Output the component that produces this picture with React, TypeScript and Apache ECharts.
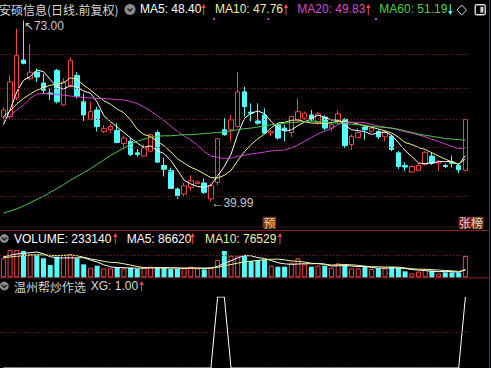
import React, { useEffect, useRef } from "react";
import * as echarts from "echarts";

// ---------- data ----------
const days = Array.from({ length: 70 }, (_, i) => `D${i + 1}`);

const opens = [
  55.4, 55.5, 58.9, 65.8, 62.4, 63.6, 61.6, 59.8, 63.9, 57.6,
  61.2, 63.0, 58.2, 55.0, 56.7, 52.8, 53.1, 53.0, 50.6, 51.0,
  48.9, 48.3, 49.2, 52.6, 46.6, 45.7, 42.3, 41.4, 42.6, 43.3,
  43.4, 40.5, 43.5, 53.1, 53.1, 53.7, 60.0, 56.3, 54.7, 55.8,
  52.5, 54.0, 53.4, 52.6, 54.8, 55.2, 55.8, 54.3, 55.4, 53.4,
  54.7, 55.0, 50.4, 51.7, 53.6, 52.8, 52.8, 51.8, 51.9, 48.9,
  46.6, 45.4, 45.7, 46.8, 48.3, 47.0, 46.6, 47.2, 46.6, 45.7,
];
const closes = [
  56.7, 61.8, 66.6, 65.2, 63.6, 62.7, 60.3, 59.6, 58.2, 61.8,
  65.7, 59.2, 55.8, 56.4, 53.7, 53.3, 53.7, 50.8, 51.6, 48.6,
  48.6, 49.8, 52.2, 47.2, 45.9, 42.4, 41.1, 42.9, 43.8, 43.6,
  41.7, 42.9, 51.48, 52.2, 54.9, 60.0, 57.3, 56.1, 54.3, 52.5,
  52.8, 51.6, 53.0, 55.5, 56.4, 56.1, 54.9, 56.0, 53.4, 54.0,
  56.0, 50.2, 51.9, 52.6, 53.1, 53.4, 51.8, 52.6, 49.5, 46.4,
  46.3, 46.4, 46.6, 49.0, 47.0, 47.4, 46.4, 47.0, 45.8, 54.96,
];
const lows = [
  55.0, 55.2, 58.5, 65.0, 62.1, 61.8, 59.7, 58.5, 57.9, 57.4,
  60.8, 58.8, 54.7, 54.8, 52.8, 52.5, 52.5, 50.6, 49.5, 48.3,
  48.2, 48.2, 49.0, 47.1, 44.6, 42.3, 40.5, 40.9, 42.0, 43.2,
  41.4, 39.99, 43.0, 52.0, 51.0, 53.5, 55.5, 54.6, 54.0, 52.3,
  51.9, 51.3, 51.0, 51.8, 54.4, 54.9, 54.6, 54.0, 53.0, 52.8,
  54.3, 49.8, 49.4, 51.6, 51.3, 52.6, 51.4, 51.0, 49.2, 45.9,
  45.6, 45.3, 45.6, 46.6, 46.7, 45.6, 46.1, 46.2, 45.2, 45.6,
];
const highs = [
  57.2, 63.0, 71.5, 73.0, 68.8, 64.2, 63.3, 60.6, 64.2, 62.5,
  66.3, 63.6, 59.7, 58.2, 57.3, 54.0, 54.1, 54.3, 52.0, 51.6,
  49.6, 50.4, 52.4, 53.0, 48.0, 46.2, 42.6, 43.4, 44.8, 43.8,
  44.2, 43.3, 51.48, 55.2, 55.8, 63.6, 60.9, 57.9, 57.9, 57.0,
  53.0, 54.3, 54.0, 55.6, 58.8, 56.4, 56.7, 56.3, 55.7, 54.7,
  56.6, 55.2, 52.3, 53.4, 54.0, 53.7, 53.1, 52.8, 52.2, 49.2,
  47.2, 46.6, 47.0, 49.2, 49.0, 47.5, 46.9, 48.4, 47.0, 54.96,
];
const ma5 = [
  54.0, 56.7, 60.0, 62.1, 62.78, 63.98, 63.68, 62.28, 60.88, 60.52,
  61.12, 60.9, 60.14, 59.78, 58.16, 55.68, 54.58, 53.58, 52.62, 51.6,
  50.66, 49.88, 50.16, 49.28, 48.74, 47.5, 45.76, 43.9, 43.22, 42.76,
  42.62, 42.98, 44.7, 46.38, 48.64, 52.3, 55.18, 56.1, 56.52, 56.04,
  54.6, 53.46, 52.84, 53.08, 53.86, 54.52, 55.18, 55.78, 55.36, 54.88,
  54.86, 53.92, 53.1, 52.94, 52.76, 52.24, 52.56, 52.7, 52.08, 50.74,
  49.32, 48.24, 47.04, 46.94, 47.06, 47.28, 47.28, 47.36, 46.72, 48.4,
];
const ma10 = [
  55.5, 56.5, 57.8, 58.8, 59.6, 60.3, 60.8, 61.2, 61.4, 61.65,
  62.55, 62.29, 61.21, 60.33, 59.34, 58.4, 57.74, 56.86, 56.2, 54.88,
  53.17, 52.23, 51.87, 50.95, 50.17, 49.08, 47.82, 47.03, 46.25, 45.75,
  45.06, 44.37, 44.3, 44.8, 45.7, 47.46, 49.08, 50.4, 51.45, 52.34,
  53.45, 54.32, 54.47, 54.8, 54.95, 54.56, 54.32, 54.31, 54.22, 54.37,
  54.69, 54.55, 54.44, 54.15, 53.82, 53.55, 53.24, 52.9, 52.51, 51.75,
  50.78, 50.4, 49.87, 49.51, 48.9, 48.3, 47.76, 47.2, 46.83, 47.76,
];
const ma20 = [
  54.6, 55.7, 56.7, 57.6, 58.8, 59.6, 59.7, 59.6, 59.5, 59.4,
  59.25, 59.1, 59.0, 58.9, 58.8, 58.8, 58.7, 58.6, 58.5, 58.27,
  57.86, 57.26, 56.54, 55.64, 54.76, 53.74, 52.78, 51.95, 51.23, 50.32,
  49.12, 48.3, 48.08, 47.87, 47.93, 48.27, 48.45, 48.71, 48.85, 49.04,
  49.25, 49.34, 49.38, 49.8, 50.32, 51.0, 51.7, 52.35, 52.83, 53.35,
  54.07, 54.43, 54.46, 54.48, 54.39, 54.06, 53.78, 53.6, 53.37, 53.06,
  52.74, 52.48, 52.16, 51.83, 51.36, 50.93, 50.5, 50.05, 49.67, 49.83,
];
const ma60 = [
  37.9, 38.3, 38.7, 39.2, 39.8, 40.4, 41.0, 41.7, 42.4, 43.1,
  43.9, 44.6, 45.3, 46.0, 46.8, 47.6, 48.4, 49.1, 49.8, 50.5,
  51.0, 51.4, 51.7, 51.9, 52.0, 52.0, 52.1, 52.2, 52.2, 52.3,
  52.4, 52.5, 52.6, 52.7, 52.9, 53.1, 53.3, 53.4, 53.6, 53.8,
  54.0, 54.1, 54.3, 54.4, 54.5, 54.6, 54.7, 54.6, 54.5, 54.4,
  54.3, 54.2, 54.1, 54.0, 53.9, 53.7, 53.6, 53.5, 53.4, 53.2,
  52.9, 52.6, 52.3, 52.1, 51.9, 51.7, 51.5, 51.4, 51.3, 51.19,
];
// volume in thousands
const volumes = [
  208, 299, 299, 288, 252, 244, 208, 135, 226, 244,
  252, 208, 142, 105, 127, 98, 98, 105, 98, 105,
  91, 105, 116, 105, 105, 91, 91, 98, 116, 98,
  87, 105, 189, 288, 237, 237, 237, 178, 189, 189,
  127, 116, 116, 160, 208, 142, 116, 127, 127, 105,
  153, 135, 98, 98, 116, 91, 98, 98, 116, 105,
  65, 43, 62, 90, 73, 40, 55, 55, 52, 233.14,
];
const volMa5 = [
  225, 240, 255, 262, 269.2, 276.4, 258.2, 225.4, 213, 211.4,
  213, 213, 214.4, 190.2, 166.8, 136, 114, 106.6, 105.2, 100.8,
  99.4, 100.8, 103, 104.4, 104.4, 104.4, 101.6, 98, 100.2, 98.8,
  98, 100.8, 119, 153.4, 181.2, 211.2, 237.6, 235.4, 215.6, 206,
  184, 159.8, 147.4, 141.6, 145.4, 148.4, 148.4, 150.6, 144, 123.4,
  125.6, 129.4, 123.6, 117.8, 120, 107.6, 100.2, 100.2, 103.8, 101.6,
  96.4, 85.4, 78.2, 73, 66.6, 61.6, 64, 62.6, 55, 86.62,
];
const volMa10 = [
  215, 222, 230, 238, 243, 246, 245, 240, 238, 240.3,
  244.7, 235.6, 219.9, 201.6, 189.1, 174.5, 163.5, 160.5, 147.7, 133.8,
  117.7, 107.4, 104.8, 104.8, 102.6, 101.9, 101.2, 100.5, 102.3, 101.6,
  101.2, 101.2, 108.5, 126.8, 140, 154.6, 169.2, 177.2, 184.5, 193.6,
  197.6, 198.7, 191.4, 178.6, 175.7, 166.2, 154.1, 149, 142.8, 134.4,
  137, 138.9, 137.1, 130.9, 121.7, 116.6, 114.8, 111.9, 110.8, 110.8,
  102, 92.8, 89.2, 88.4, 84.1, 79, 74.7, 70.4, 64, 76.529,
];
const xg = [
  0, 0, 0, 0, 0, 0, 0, 0, 0, 0,
  0, 0, 0, 0, 0, 0, 0, 0, 0, 0,
  0, 0, 0, 0, 0, 0, 0, 0, 0, 0,
  0, 0, 1, 1, 0, 0, 0, 0, 0, 0,
  0, 0, 0, 0, 0, 0, 0, 0, 0, 0,
  0, 0, 0, 0, 0, 0, 0, 0, 0, 0,
  0, 0, 0, 0, 0, 0, 0, 0, 0, 1,
];
const priceGridLines = [40.9, 45.45, 50, 55.05, 60.7, 66.8];
const volGridLines = [236];
const xgGridLines = [0.5];

// ---------- styles ----------
const UP = "#f24646";
const DOWN = "#54fcfc";
const GRIDC = "#7a2222";
const FRAME = "#8e1e1e";
const LATIN = '12px "Liberation Sans", Arial, sans-serif';
const CJK = '"Noto Sans CJK SC", sans-serif';

const txt = (text: string, x: number, y: number, fill: string, font = LATIN) => ({
  type: "text",
  x,
  y,
  silent: true,
  style: { text, fill, font, verticalAlign: "middle", align: "left" },
});
const arrow = (x: number, y1: number, y2: number, color: string, up = true) => [
  { type: "line", silent: true, shape: { x1: x, y1: up ? y1 + 1 : y1, x2: x, y2: up ? y2 : y2 - 1 }, style: { stroke: color, lineWidth: 1 } },
  {
    type: "polygon",
    silent: true,
    shape: {
      points: up
        ? [[x - 2.2, y1 + 4], [x, y1], [x + 2.2, y1 + 4]]
        : [[x - 2.2, y2 - 4], [x, y2], [x + 2.2, y2 - 4]],
    },
    style: { fill: color },
  },
];
const icon = (cx: number, cy: number, r: number) => [
  { type: "circle", silent: true, shape: { cx, cy, r }, style: { fill: "#8c8c8c" } },
  {
    type: "polyline",
    silent: true,
    shape: { points: [[cx - 2.5, cy - 1], [cx, cy + 1.6], [cx + 2.5, cy - 1]] },
    style: { stroke: "#1c1c1c", lineWidth: 1.4, fill: "none" },
  },
];
const gridMarkLine = (values: number[]) => ({
  silent: true,
  symbol: ["none", "none"],
  label: { show: false },
  animation: false,
  lineStyle: { color: GRIDC, type: [1, 2], width: 1 },
  emphasis: { disabled: true },
  data: values.map((v) => ({ yAxis: v })),
});

export default function App() {
  const ref = useRef<HTMLDivElement>(null);
  useEffect(() => {
    if (!ref.current) return;
    const chart = echarts.init(ref.current, undefined, { renderer: "svg" });
    const candle = opens.map((o, i) => [o, closes[i], lows[i], highs[i]]);
    const hiIdx = highs.indexOf(Math.max(...highs));
    const loIdx = lows.indexOf(Math.min(...lows));
    const volData = volumes.map((v, i) => {
      const up = closes[i] >= opens[i];
      return {
        value: v,
        itemStyle: up
          ? { color: "#000", borderColor: UP, borderWidth: 1 }
          : { color: DOWN, borderColor: DOWN, borderWidth: 0 },
      };
    });
    const L = -3.07;
    const W = 471.8;
    const line = (name: string, data: number[], color: string, idx: number) => ({
      name,
      type: "line",
      data,
      xAxisIndex: idx,
      yAxisIndex: idx,
      symbol: "none",
      silent: true,
      lineStyle: { color, width: 1 },
      emphasis: { disabled: true },
    });
    const xa = (i: number) => ({
      type: "category",
      gridIndex: i,
      data: days,
      boundaryGap: true,
      show: false,
    });
    const lastCol = "#f0f0a0";
    chart.setOption({
      animation: false,
      backgroundColor: "#000",
      grid: [
        { left: L, width: W, top: 18.7, height: 210.3 },
        { left: L, width: W, top: 248.06, height: 29.24 },
        { left: L, width: W, top: 297, height: 84 },
      ],
      xAxis: [xa(0), xa(1), xa(2)],
      yAxis: [
        { type: "value", gridIndex: 0, min: 35.02, max: 73.33, show: false },
        { type: "value", gridIndex: 1, min: 0, max: 320, show: false },
        { type: "value", gridIndex: 2, min: 0, max: 1, show: false },
      ],
      series: [
        {
          name: "K",
          type: "candlestick",
          data: candle,
          xAxisIndex: 0,
          yAxisIndex: 0,
          barWidth: 5,
          silent: true,
          itemStyle: { color: "#000", color0: DOWN, borderColor: UP, borderColor0: DOWN, borderWidth: 1 },
          emphasis: { disabled: true },
          markLine: gridMarkLine(priceGridLines),
          markPoint: {
            silent: true,
            symbol: "circle",
            symbolSize: 1,
            itemStyle: { color: "rgba(0,0,0,0)" },
            animation: false,
            label: { show: true, color: "#c8c8c8", fontSize: 12, fontFamily: '"Liberation Sans", Arial', position: "right", distance: 0 },
            data: [
              { coord: [hiIdx, highs[hiIdx]], value: highs[hiIdx], label: { formatter: "↖" + highs[hiIdx].toFixed(2), offset: [0, 5] } },
              { coord: [loIdx, lows[loIdx]], value: lows[loIdx], label: { formatter: "←" + lows[loIdx].toFixed(2), offset: [0, 1] } },
            ],
          },
        },
        line("MA5", ma5, "#ffffff", 0),
        line("MA10", ma10, "#f4f490", 0),
        line("MA20", ma20, "#d040d0", 0),
        line("MA60", ma60, "#48c848", 0),
        {
          name: "VOL",
          type: "bar",
          data: volData,
          xAxisIndex: 1,
          yAxisIndex: 1,
          barWidth: 5,
          silent: true,
          emphasis: { disabled: true },
          markLine: gridMarkLine(volGridLines),
        },
        line("VMA5", volMa5, "#ffffff", 1),
        line("VMA10", volMa10, "#f4f490", 1),
        {
          ...line("XG", xg, "#ffffff", 2),
          markLine: gridMarkLine(xgGridLines),
        },
      ],
      graphic: [
        // frame lines
        { type: "line", silent: true, shape: { x1: 0, y1: 230.5, x2: 489, y2: 230.5 }, style: { stroke: FRAME, lineWidth: 1 } },
        { type: "line", silent: true, shape: { x1: 0, y1: 277.8, x2: 489, y2: 277.8 }, style: { stroke: FRAME, lineWidth: 1 } },
        { type: "line", silent: true, shape: { x1: 489.5, y1: 0, x2: 489.5, y2: 368 }, style: { stroke: FRAME, lineWidth: 1 } },
        // title row
        txt("安硕信息(日线.前复权)", -1, 9.5, "#d6d6d6", `12px ${CJK}`),
        ...icon(130, 9.5, 5.5),
        txt("MA5: " + ma5[69].toFixed(2), 140, 9, "#ffffff"),
        ...arrow(203.7, 4, 15, UP),
        txt("MA10: " + ma10[69].toFixed(2), 215, 9, lastCol),
        ...arrow(286, 4, 15, UP),
        txt("MA20: " + ma20[69].toFixed(2), 297.3, 9, "#d050d0"),
        ...arrow(368.3, 4, 15, UP),
        txt("MA60: " + ma60[69].toFixed(2), 379.3, 9, "#50d050"),
        ...arrow(450.3, 4, 15, DOWN, false),
        { type: "polygon", silent: true, shape: { points: [[461.7, 5], [466.5, 10], [461.7, 15], [456.9, 10]] }, style: { stroke: "#d8d8d8", fill: "none", lineWidth: 1 } },
        { type: "rect", silent: true, shape: { x: 475.2, y: 4.7, width: 10, height: 10, r: 1.5 }, style: { stroke: "#d8d8d8", fill: "none", lineWidth: 1.4 } },
        { type: "rect", silent: true, shape: { x: 480.4, y: 6.8, width: 3, height: 5.8 }, style: { fill: "#d8d8d8" } },
        { type: "rect", silent: true, shape: { x: 213, y: 18, width: 2, height: 2 }, style: { fill: "#c040c0" } },
        { type: "rect", silent: true, shape: { x: 267.3, y: 18, width: 2, height: 2 }, style: { fill: "#c040c0" } },
        { type: "rect", silent: true, shape: { x: 375, y: 18, width: 2, height: 2 }, style: { fill: "#c040c0" } },
        // tags at the bottom of the price panel
        { type: "text", silent: true, x: 262.7, y: 216.8, style: { text: "预", fill: "#f6c890", font: `12px ${CJK}`, backgroundColor: "#73381a", padding: [0, 0.7, 0, 0.7], lineHeight: 11.6 } },
        { type: "text", silent: true, x: 458.4, y: 216.8, style: { text: "张", fill: "#f8d0c0", font: `12px ${CJK}`, backgroundColor: "#6a1c1c", padding: [0, 0.3, 0, 0.3], lineHeight: 11.6 } },
        { type: "text", silent: true, x: 470.8, y: 216.8, style: { text: "榜", fill: "#f8d0c0", font: `12px ${CJK}`, backgroundColor: "#73381a", padding: [0, 0.3, 0, 0.3], lineHeight: 11.6 } },
        // volume row
        ...icon(4.3, 238.5, 4.4),
        txt("VOLUME: " + Math.round(volumes[69] * 1000), 14, 238.5, "#ffffff"),
        ...arrow(115.3, 233, 244, UP),
        txt("MA5: " + Math.round(volMa5[69] * 1000), 126.7, 238.5, "#ffffff"),
        ...arrow(192.7, 233, 244, UP),
        txt("MA10: " + Math.round(volMa10[69] * 1000), 205, 238.5, lastCol),
        ...arrow(280, 233, 244, UP),
        // XG row
        ...icon(4.3, 286, 4.4),
        txt("温州帮炒作选", 14, 286, "#d0d0d0", `12px ${CJK}`),
        txt("XG: " + xg[69].toFixed(2), 90.7, 286, "#dcdcdc"),
        ...arrow(141.7, 281, 291.5, UP),
      ],
    });
    return () => chart.dispose();
  }, []);
  return (
    <div
      ref={ref}
      style={{ position: "fixed", left: 0, top: 0, width: 491, height: 368, background: "#000" }}
    />
  );
}
